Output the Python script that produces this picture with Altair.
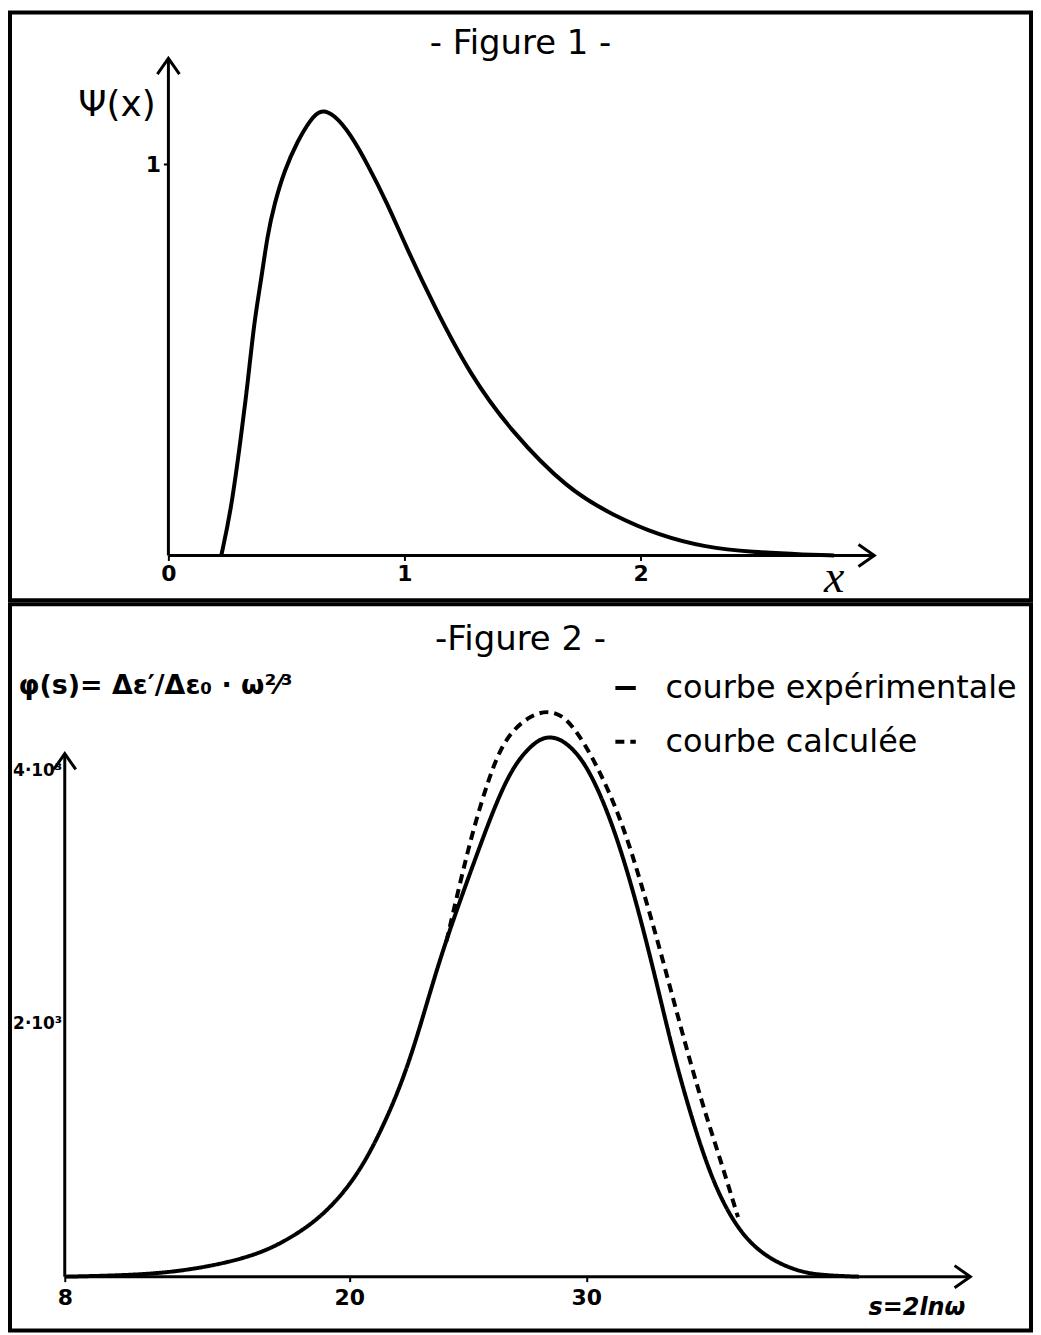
import altair as alt
import pandas as pd

# ---------------- Figure 1 : psi(x) ----------------
fig1_x = [0.224, 0.266, 0.308, 0.336, 0.364, 0.392, 0.42, 0.449, 0.491, 0.547,
          0.603, 0.646, 0.702, 0.772, 0.843, 0.927, 1.006, 1.123, 1.279, 1.455,
          1.689, 1.885, 2.08, 2.275, 2.47, 2.705, 2.82]
fig1_psi = [0.0, 0.117, 0.305, 0.44, 0.60, 0.70, 0.82, 0.898, 0.983, 1.059,
            1.115, 1.14, 1.127, 1.076, 1.0, 0.9, 0.79, 0.64, 0.46, 0.315,
            0.17, 0.102, 0.051, 0.021, 0.0085, 0.002, 0.0]
fig1_xticks = [0, 1, 2]
fig1_yticks = [1]
fig1_x_axis_end = 2.99
fig1_y_axis_end = 1.27

# ---------------- Figure 2 : phi(s) ----------------
series_names = ["courbe expérimentale", "courbe calculée"]
s_exp = [8, 10, 12, 14, 16.1, 17.5, 18.9, 20.3, 21.4, 22.3, 23.0, 23.8, 24.7,
         25.5, 26.2, 27.0, 28.0, 28.6, 29.1, 29.9, 30.8, 31.6, 32.3, 33.0, 33.7,
         34.55, 35.4, 36.4, 37.5, 38.9, 40.0, 41.5]
phi_exp = [0, 8, 25, 75, 170, 300, 480, 780, 1170, 1570, 1980, 2500, 2986,
           3396, 3747, 4069, 4259, 4268, 4230, 4084, 3732, 3293, 2825, 2298, 1742,
           1186, 717, 366, 161, 40, 10, 0]
s_calc = [24.1, 24.7, 25.2, 25.9, 26.6, 27.7, 28.6, 29.4, 30.5, 31.5, 32.3,
          33.15, 34.0, 34.8, 35.7, 36.4]
phi_calc = [2650, 3132, 3513, 3952, 4274, 4450, 4479, 4380, 4030, 3600, 3120,
            2560, 1960, 1420, 900, 470]
fig2_xticks = [8, 20, 30]
fig2_yticks = [2000, 4000]
fig2_x_axis_start = 8
fig2_x_axis_end = 46.2
fig2_y_axis_end = 4134

FONT = "DejaVu Sans"
W = 1025
H1 = 590
H2 = 729

ARROW_RIGHT = "M -1 -0.7 L 0 0 L -1 0.7"
ARROW_UP = "M -0.7 1 L 0 0 L 0.7 1"

# ---------- Figure 1 ----------
df1 = pd.DataFrame({"x": fig1_x, "psi": fig1_psi})
ax1 = pd.DataFrame({"x": [0, 0], "x1": [fig1_x_axis_end, 0],
                    "psi": [0, 0], "y1": [0, fig1_y_axis_end]})
tips1 = pd.DataFrame({"x": [fig1_x_axis_end, 0], "psi": [0, fig1_y_axis_end],
                      "dir": ["right", "up"]})

xs1 = alt.Scale(domain=[-0.671, 3.654], nice=False, zero=False)
ys1 = alt.Scale(domain=[-0.1145, 1.387], nice=False, zero=False)
xaxis1 = alt.Axis(
    values=fig1_xticks, offset=-45, domain=False, grid=False,
    tickSize=5, tickWidth=2, tickColor="black",
    labelFontSize=22, labelFontWeight="bold", labelColor="black", labelFont=FONT,
    labelPadding=3, labelFlush=False,
    title="x", titleFont="Liberation Serif", titleFontStyle="italic",
    titleFontSize=46, titleFontWeight="normal", titleColor="black",
    titleX=827, titleY=22, titleAlign="center", titleBaseline="middle")
yaxis1 = alt.Axis(
    values=fig1_yticks, offset=-159, domain=False, grid=False,
    tickSize=5, tickWidth=2, tickColor="black",
    labelFontSize=22, labelFontWeight="bold", labelColor="black", labelFont=FONT,
    labelPadding=3, labelFlush=False,
    title="Ψ(x)", titleFont=FONT, titleFontSize=36, titleFontWeight="normal",
    titleColor="black", titleAngle=0, titleX=-52, titleY=92,
    titleAlign="center", titleBaseline="middle")

X1 = alt.X("x:Q", scale=xs1, axis=xaxis1)
Y1 = alt.Y("psi:Q", scale=ys1, axis=yaxis1)

curve1 = alt.Chart(df1).mark_line(color="black", strokeWidth=4, interpolate="basis").encode(x=X1, y=Y1)
axes1 = alt.Chart(ax1).mark_rule(color="black", strokeWidth=3).encode(x=X1, x2="x1:Q", y=Y1, y2="y1:Q")
arrows1 = alt.Chart(tips1).mark_point(filled=False, color="black", strokeWidth=3, size=1000, opacity=1).encode(
    x=X1, y=Y1,
    shape=alt.Shape("dir:N", scale=alt.Scale(domain=["right", "up"], range=[ARROW_RIGHT, ARROW_UP]), legend=None))

fig1 = alt.layer(curve1, axes1, arrows1).properties(
    width=W, height=H1,
    title=alt.TitleParams("- Figure 1 -", font=FONT, fontSize=34, fontWeight="normal",
                          color="black", dy=53))

# ---------- Figure 2 ----------
df2 = pd.concat([
    pd.DataFrame({"s": s_exp, "phi": phi_exp, "serie": series_names[0]}),
    pd.DataFrame({"s": s_calc, "phi": phi_calc, "serie": series_names[1]}),
])
ax2 = pd.DataFrame({"s": [fig2_x_axis_start, fig2_x_axis_start], "x1": [fig2_x_axis_end, fig2_x_axis_start],
                    "phi": [0, 0], "y1": [0, fig2_y_axis_end]})
tips2 = pd.DataFrame({"s": [fig2_x_axis_end, fig2_x_axis_start], "phi": [0, fig2_y_axis_end],
                      "dir": ["right", "up"]})

xs2 = alt.Scale(domain=[5.69, 48.76], nice=False, zero=False)
ys2 = alt.Scale(domain=[-425, 5315], nice=False, zero=False)
xaxis2 = alt.Axis(
    values=fig2_xticks, offset=-54, domain=False, grid=False,
    tickSize=5, tickWidth=2, tickColor="black",
    labelFontSize=22, labelFontWeight="bold", labelColor="black", labelFont=FONT,
    labelPadding=6, labelFlush=False,
    title="s=2lnω", titleFont=FONT, titleFontStyle="italic",
    titleFontSize=24, titleFontWeight="bold", titleColor="black",
    titleX=910, titleY=31, titleAlign="center", titleBaseline="middle")
yaxis2 = alt.Axis(
    values=fig2_yticks, offset=-55, domain=False, grid=False,
    tickSize=0, labelExpr="datum.value / 1000 + '·10³'",
    labelFontSize=17, labelFontWeight="bold", labelColor="black", labelFont=FONT,
    labelPadding=3, labelFlush=False,
    title="φ(s)= Δε′/Δε₀ · ω²⁄³", titleFont=FONT, titleFontSize=27,
    titleFontWeight="bold", titleColor="black", titleAngle=0,
    titleX=-47, titleY=82, titleAlign="left", titleBaseline="middle")

X2 = alt.X("s:Q", scale=xs2, axis=xaxis2)
Y2 = alt.Y("phi:Q", scale=ys2, axis=yaxis2)

curve2 = alt.Chart(df2).mark_line(color="black", strokeWidth=4, interpolate="basis").encode(
    x=X2, y=Y2,
    strokeDash=alt.StrokeDash("serie:N", sort=series_names,
        scale=alt.Scale(domain=series_names, range=[[1, 0], [9, 6]]),
        legend=alt.Legend(orient="none", legendX=602, legendY=68, title=None,
                          labelFont=FONT, labelFontSize=32, labelColor="black", labelLimit=600,
                          symbolType="stroke", symbolStrokeWidth=4, symbolSize=420,
                          symbolStrokeColor="black", labelOffset=24, rowPadding=22)),
)
axes2 = alt.Chart(ax2).mark_rule(color="black", strokeWidth=3).encode(x=X2, x2="x1:Q", y=Y2, y2="y1:Q")
arrows2 = alt.Chart(tips2).mark_point(filled=False, color="black", strokeWidth=3, size=1000, opacity=1).encode(
    x=X2, y=Y2,
    shape=alt.Shape("dir:N", scale=alt.Scale(domain=["right", "up"], range=[ARROW_RIGHT, ARROW_UP]), legend=None))

fig2 = alt.layer(curve2, axes2, arrows2).properties(
    width=W, height=H2,
    title=alt.TitleParams("-Figure 2 -", font=FONT, fontSize=34, fontWeight="normal",
                          color="black", dy=57))

chart = alt.vconcat(fig1, fig2, spacing=0).resolve_legend(
    strokeDash="independent", shape="independent").properties(
    padding=0, background="white").configure_view(stroke="black", strokeWidth=4)

chart.save("out.html", embed_options={"renderer": "svg", "actions": False})
